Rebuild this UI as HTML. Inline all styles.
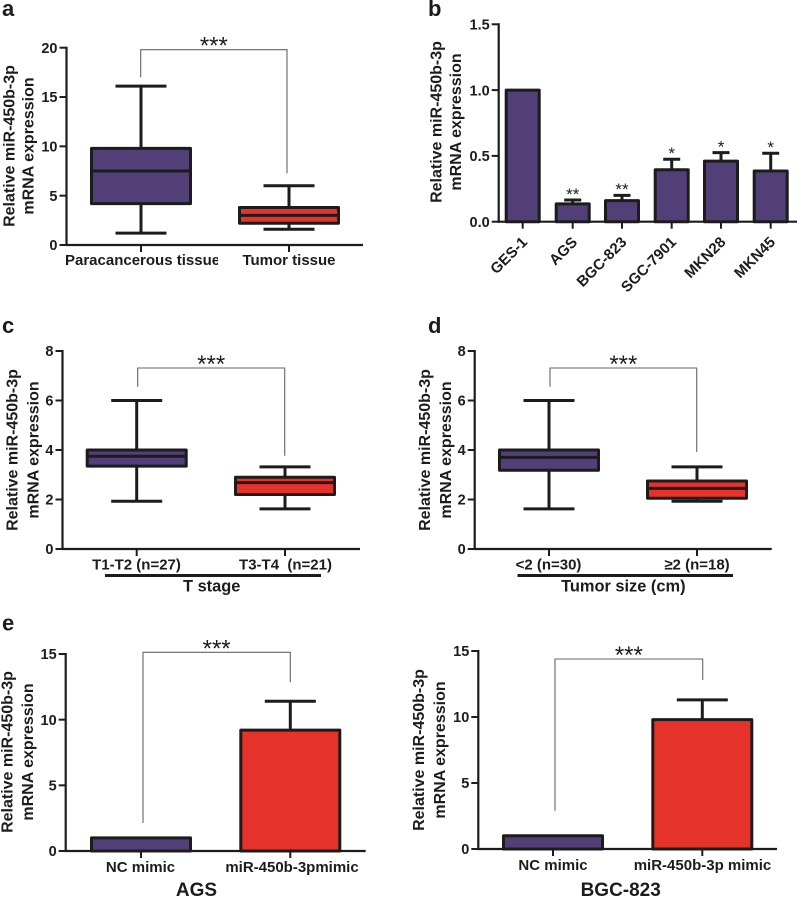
<!DOCTYPE html>
<html lang="en">
<head>
<meta charset="utf-8">
<title>miR-450b-3p expression panels</title>
<style>
html,body{margin:0;padding:0;background:#fff;}
svg{display:block;font-family:"Liberation Sans",Arial,sans-serif;}
text{fill:#1c1c1c;}
</style>
</head>
<body>
<svg id="figure" width="797" height="897" viewBox="0 0 797 897" xmlns="http://www.w3.org/2000/svg">
<defs>
<clipPath id="clip-a"><rect x="50" y="245" width="168" height="40"/></clipPath>
</defs>
</svg>
<script>
/* ---------- data: panel a ---------- */
const aCategories = ['Paracancerous tissue', 'Tumor tissue'];
const aWhiskerHigh = [16.1, 6.0];
const aQ3 = [9.8, 3.8];
const aMedian = [7.5, 3.0];
const aQ1 = [4.2, 2.2];
const aWhiskerLow = [1.2, 1.6];
const aTicks = [0, 5, 10, 15, 20];

/* ---------- data: panel b ---------- */
const bCategories = ['GES-1', 'AGS', 'BGC-823', 'SGC-7901', 'MKN28', 'MKN45'];
const bValues = [1.0, 0.135, 0.16, 0.395, 0.46, 0.385];
const bErrorTop = [1.0, 0.165, 0.2, 0.475, 0.525, 0.52];
const bStars = ['', '**', '**', '*', '*', '*'];
const bTicks = [0, 0.5, 1.0, 1.5];
const bTickLabels = ['0.0', '0.5', '1.0', '1.5'];

/* ---------- data: panel c ---------- */
const cCategories = ['T1-T2 (n=27)', 'T3-T4  (n=21)'];
const cWhiskerHigh = [6.0, 3.32];
const cQ3 = [4.0, 2.9];
const cMedian = [3.75, 2.68];
const cQ1 = [3.35, 2.2];
const cWhiskerLow = [1.93, 1.62];
const cTicks = [0, 2, 4, 6, 8];

/* ---------- data: panel d ---------- */
const dCategories = ['<2 (n=30)', '≥2 (n=18)'];
const dWhiskerHigh = [6.0, 3.32];
const dQ3 = [4.0, 2.75];
const dMedian = [3.7, 2.45];
const dQ1 = [3.18, 2.05];
const dWhiskerLow = [1.62, 1.93];
const dTicks = [0, 2, 4, 6, 8];

/* ---------- data: panel e (AGS) ---------- */
const e1Categories = ['NC mimic', 'miR-450b-3pmimic'];
const e1Values = [1.0, 9.2];
const e1ErrorTop = [1.0, 11.4];
const e1Ticks = [0, 5, 10, 15];

/* ---------- data: panel e (BGC-823) ---------- */
const e2Categories = ['NC mimic', 'miR-450b-3p mimic'];
const e2Values = [1.0, 9.8];
const e2ErrorTop = [1.0, 11.3];
const e2Ticks = [0, 5, 10, 15];

/* ---------- drawing ---------- */
const svg = document.getElementById('figure');
const NS = 'http://www.w3.org/2000/svg';
const INK = '#1c1c1c', PURPLE = '#523f78', RED = '#e5332b', GREY = '#666';
const XSIZE = 15;

function mk(tag, attrs, name, parent) {
  const node = document.createElementNS(NS, tag);
  for (const k in attrs) node.setAttribute(k, attrs[k]);
  
  
  (parent || svg).appendChild(node);
  return node;
}
function line(x1, y1, x2, y2, w, c, name, parent) {
  return mk('line', {x1: x1, y1: y1, x2: x2, y2: y2, stroke: c, 'stroke-width': w}, name, parent);
}
function label(str, x, y, size, anchor, name, parent, extra) {
  const attrs = Object.assign({x: x, y: y, 'font-size': size, 'font-weight': 'bold', 'text-anchor': anchor, 'xml:space': 'preserve'}, extra || {});
  const t = mk('text', attrs, name, parent);
  t.style.whiteSpace = 'pre';
  t.textContent = str;
  return t;
}
function linearY(domainMax, y0, yTop) {
  return function (v) { return y0 + (yTop - y0) * v / domainMax; };
}

function drawAxes(g, L, y, ticks, tickLabels) {
  line(L.axisX, y(ticks[ticks.length - 1]) - 1, L.axisX, L.y0 + 1, 2.2, INK, 'y-axis', g);
  line(L.axisX - 1, L.y0, L.axisEnd, L.y0, 2.2, INK, 'x-axis', g);
  ticks.forEach(function (t, i) {
    line(L.axisX - 7, y(t), L.axisX, y(t), 2, INK, 'y-tick', g);
    label(tickLabels ? tickLabels[i] : String(t), L.axisX - 9, y(t) + 5.2, 14.5, 'end', 'y-tick-label', g);
  });
  L.cx.forEach(function (x) {
    line(x, L.y0, x, L.y0 + 7, 2, INK, 'x-tick', g);
  });
}
function drawTitle(g, L) {
  label('Relative miR-450b-3p', 0, 0, 16, 'middle', 'y-axis-title-line-1', g,
    {transform: 'translate(' + L.t1x + ',' + L.tcy + ') rotate(-90)'});
  label('mRNA expression', 0, 0, 16, 'middle', 'y-axis-title-line-2', g,
    {transform: 'translate(' + L.t2x + ',' + L.tcy + ') rotate(-90)'});
}
function drawBracket(g, B) {
  const p = mk('polyline', {points: B.x1 + ',' + B.y1 + ' ' + B.x1 + ',' + B.y + ' ' + B.x2 + ',' + B.y + ' ' + B.x2 + ',' + B.y2,
    fill: 'none', stroke: GREY, 'stroke-width': 1.1}, 'significance-bracket', g);
  label('***', (B.x1 + B.x2) / 2 + (B.dx || 0), B.y + 4, 24, 'middle', 'significance-stars', g,
    {'font-weight': 'normal'});
  return p;
}
function drawBox(g, L, y, i, hi, q3, med, q1, lo, fill) {
  const cx = L.cx[i];
  const capHalf = 25.5, half = 49.5;
  line(cx, y(hi), cx, y(q3), 3, INK, 'whisker-upper', g);
  line(cx, y(q1), cx, y(lo), 3, INK, 'whisker-lower', g);
  line(cx - capHalf, y(hi), cx + capHalf, y(hi), 3, INK, 'whisker-cap-upper', g);
  line(cx - capHalf, y(lo), cx + capHalf, y(lo), 3, INK, 'whisker-cap-lower', g);
  mk('rect', {x: cx - half, y: y(q3), width: half * 2, height: y(q1) - y(q3), fill: fill, stroke: INK, 'stroke-width': 3, 'stroke-linejoin': 'round'}, 'box', g);
  line(cx - half, y(med), cx + half, y(med), 3, INK, 'median-line', g);
}
function drawBar(g, L, y, i, value, err, fill, half, capHalf) {
  const cx = L.cx[i];
  if (err > value) {
    line(cx, y(err), cx, y(value), 3, INK, 'error-bar', g);
    line(cx - capHalf, y(err), cx + capHalf, y(err), 3, INK, 'error-cap', g);
  }
  mk('rect', {x: cx - half, y: y(value), width: half * 2, height: L.y0 - y(value), fill: fill, stroke: INK, 'stroke-width': 3, 'stroke-linejoin': 'round'}, 'bar', g);
}
function panel(name, letter, lx, ly) {
  const g = mk('g', {}, name);
  label(letter, lx, ly, 22, 'start', 'panel-label', g);
  return g;
}

/* panel a */
(function () {
  const L = {axisX: 66.5, axisEnd: 363, y0: 245, cx: [141, 289], t1x: 14.5, t2x: 33.5, tcy: 146};
  const y = linearY(20, L.y0, 47.7);
  const g = panel('panel-a', 'a', 2, 16);
  drawAxes(g, L, y, aTicks, null);
  drawTitle(g, L);
  aCategories.forEach(function (c, i) {
    const fill = i === 0 ? PURPLE : RED;
    drawBox(g, L, y, i, aWhiskerHigh[i], aQ3[i], aMedian[i], aQ1[i], aWhiskerLow[i], fill);
  });
  label(aCategories[0], 65, 265, XSIZE, 'start', 'x-label', g, {'clip-path': 'url(#clip-a)'});
  label(aCategories[1], 289, 265, XSIZE, 'middle', 'x-label', g);
  drawBracket(g, {x1: 140.7, x2: 287, y: 49.7, y1: 77.3, y2: 173.3});
})();

/* panel b */
(function () {
  const L = {axisX: 498.7, axisEnd: 797, y0: 221.7, cx: [522.7, 572.7, 622, 671.7, 721, 770.7], t1x: 441.7, t2x: 461, tcy: 122};
  const y = linearY(1.5, L.y0, 24.3);
  const g = panel('panel-b', 'b', 428, 16);
  drawAxes(g, L, y, bTicks, bTickLabels);
  drawTitle(g, L);
  bCategories.forEach(function (c, i) {
    drawBar(g, L, y, i, bValues[i], bErrorTop[i], PURPLE, 16.5, 8.5);
    if (bStars[i]) {
      label(bStars[i], L.cx[i], y(bErrorTop[i]) - 0.2, 17, 'middle', 'significance-stars', g, {'font-weight': 'normal'});
    }
    label(c, 0, 0, XSIZE, 'end', 'x-label', g,
      {transform: 'translate(' + (L.cx[i] + 5.5) + ',243) rotate(-45)'});
  });
})();

/* panel c */
(function () {
  const L = {axisX: 62.5, axisEnd: 360, y0: 549, cx: [136.7, 285], t1x: 17.5, t2x: 38.7, tcy: 450};
  const y = linearY(8, L.y0, 351);
  const g = panel('panel-c', 'c', 2, 333);
  drawAxes(g, L, y, cTicks, null);
  drawTitle(g, L);
  cCategories.forEach(function (c, i) {
    drawBox(g, L, y, i, cWhiskerHigh[i], cQ3[i], cMedian[i], cQ1[i], cWhiskerLow[i], i === 0 ? PURPLE : RED);
    label(c, i === 0 ? 136.5 : 285.5, 569.5, XSIZE, 'middle', 'x-label', g);
  });
  line(105, 575.5, 321, 575.5, 3, INK, 'group-underline', g);
  label('T stage', 211.7, 591.5, 16.4, 'middle', 'x-axis-title', g);
  drawBracket(g, {x1: 137.7, x2: 284.7, y: 368, y1: 386.7, y2: 455.7});
})();

/* panel d */
(function () {
  const L = {axisX: 474.7, axisEnd: 771.7, y0: 549, cx: [549, 697], t1x: 430, t2x: 451, tcy: 450};
  const y = linearY(8, L.y0, 351);
  const g = panel('panel-d', 'd', 428, 333);
  drawAxes(g, L, y, dTicks, null);
  drawTitle(g, L);
  dCategories.forEach(function (c, i) {
    drawBox(g, L, y, i, dWhiskerHigh[i], dQ3[i], dMedian[i], dQ1[i], dWhiskerLow[i], i === 0 ? PURPLE : RED);
    label(c, i === 0 ? 548.5 : 697, 569.5, XSIZE, 'middle', 'x-label', g);
  });
  line(517.5, 575.5, 733, 575.5, 3, INK, 'group-underline', g);
  label('Tumor size (cm)', 623.3, 591.5, 16.4, 'middle', 'x-axis-title', g);
  drawBracket(g, {x1: 550, x2: 696.7, y: 368, y1: 386.7, y2: 452});
})();

/* panel e, AGS */
(function () {
  const L = {axisX: 65.7, axisEnd: 365.7, y0: 851, cx: [141, 290.3], t1x: 12.5, t2x: 33, tcy: 752};
  const y = linearY(15, L.y0, 654);
  const g = panel('panel-e-ags', 'e', 2, 630.5);
  drawAxes(g, L, y, e1Ticks, null);
  drawTitle(g, L);
  e1Categories.forEach(function (c, i) {
    drawBar(g, L, y, i, e1Values[i], e1ErrorTop[i], i === 0 ? PURPLE : RED, 49.5, 25.5);
    label(c, i === 0 ? 140.5 : 292, 872, XSIZE, 'middle', 'x-label', g);
  });
  label('AGS', 196.5, 896, 19, 'middle', 'x-axis-title', g);
  drawBracket(g, {x1: 143, x2: 290.3, y: 652.3, y1: 823, y2: 682.3});
})();

/* panel e, BGC-823 */
(function () {
  const L = {axisX: 478.3, axisEnd: 777, y0: 849, cx: [553, 702.3], t1x: 424, t2x: 445, tcy: 750};
  const y = linearY(15, L.y0, 651);
  const g = mk('g', {}, 'panel-e-bgc-823');
  drawAxes(g, L, y, e2Ticks, null);
  drawTitle(g, L);
  e2Categories.forEach(function (c, i) {
    drawBar(g, L, y, i, e2Values[i], e2ErrorTop[i], i === 0 ? PURPLE : RED, 49.5, 25.5);
    label(c, i === 0 ? 553 : 702.5, 870, XSIZE, 'middle', 'x-label', g);
  });
  label('BGC-823', 620.7, 896, 19, 'middle', 'x-axis-title', g);
  drawBracket(g, {x1: 555, x2: 702.7, y: 659, y1: 810.7, y2: 680});
})();
</script>
</body>
</html>
